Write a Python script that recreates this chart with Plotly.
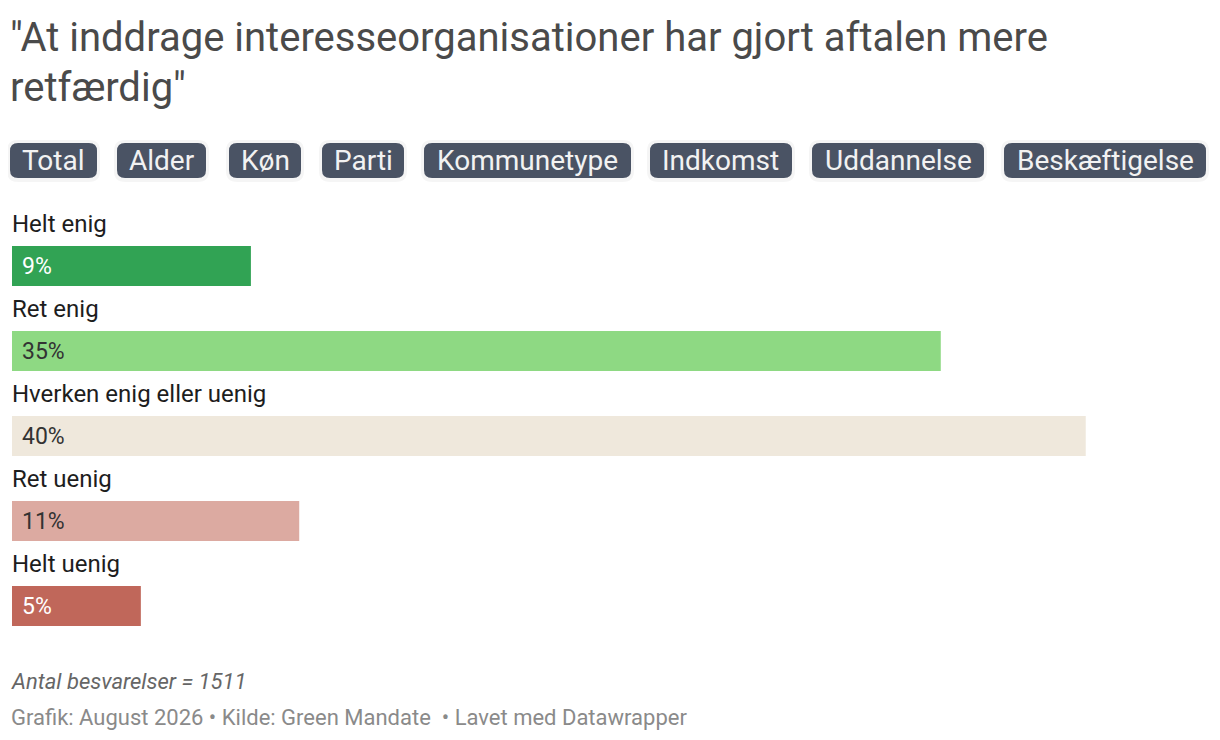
import plotly.graph_objects as go

# --- data ---
categories = ["Helt enig", "Ret enig", "Hverken enig eller uenig", "Ret uenig", "Helt uenig"]
shares = [8.9, 34.6, 40.0, 10.7, 4.8]
share_labels = ["9%", "35%", "40%", "11%", "5%"]
bar_colors = ["#31a354", "#8ed983", "#efe8dc", "#dcaaa1", "#c0675a"]
label_colors = ["#ffffff", "#333333", "#333333", "#333333", "#ffffff"]
tabs = ["Total", "Alder", "Køn", "Parti", "Kommunetype", "Indkomst", "Uddannelse", "Beskæftigelse"]
title_lines = ['"At inddrage interesseorganisationer har gjort aftalen mere', 'retfærdig"']
note = "Antal besvarelser = 1511"
source = "Grafik: August 2026 • Kilde: Green Mandate  • Lavet med Datawrapper"

W, H = 1220, 740
OFF = 8  # page body margin
FONT = "Roboto"


def px(x):
    return (x - OFF) / W


def py(y):
    return 1 - (y - OFF) / H


def rounded_rect(x0, y0, x1, y1, r):
    # pixel coords -> paper path with rounded corners
    return (
        f"M {px(x0 + r)},{py(y0)} L {px(x1 - r)},{py(y0)} "
        f"Q {px(x1)},{py(y0)} {px(x1)},{py(y0 + r)} "
        f"L {px(x1)},{py(y1 - r)} Q {px(x1)},{py(y1)} {px(x1 - r)},{py(y1)} "
        f"L {px(x0 + r)},{py(y1)} Q {px(x0)},{py(y1)} {px(x0)},{py(y1 - r)} "
        f"L {px(x0)},{py(y0 + r)} Q {px(x0)},{py(y0)} {px(x0 + r)},{py(y0)} Z"
    )


ypos = list(range(len(categories)))

fig = go.Figure()
fig.add_trace(go.Bar(
    x=shares, y=ypos, orientation="h",
    marker=dict(color=bar_colors, line=dict(width=0)),
    width=0.47,
    hoverinfo="skip",
))

annotations = []
# category labels above bars + value labels inside
for i, c in enumerate(categories):
    annotations.append(dict(
        x=0, y=i, xref="x", yref="y", text=c, showarrow=False,
        xanchor="left", yanchor="middle", yshift=42, xshift=-2,
        font=dict(family=FONT, size=24, color="#1d1d1d"),
    ))
    annotations.append(dict(
        x=0, y=i, xref="x", yref="y", text=share_labels[i], showarrow=False,
        xanchor="left", yanchor="middle", xshift=8,
        font=dict(family=FONT, size=23, color=label_colors[i]),
    ))

# title
for k, line in enumerate(title_lines):
    annotations.append(dict(
        x=px(8), y=py(37 + 50 * k), xref="paper", yref="paper", text=line,
        showarrow=False, xanchor="left", yanchor="middle",
        font=dict(family=FONT, size=40, color="#4a4a4a"),
    ))

# tab buttons
tab_x = [(10, 97), (117, 206), (229, 301), (322, 404), (424, 631), (650, 792), (812, 984), (1004, 1206)]
shapes = []
for t, (x0, x1) in zip(tabs, tab_x):
    shapes.append(dict(type="path", xref="paper", yref="paper",
                       path=rounded_rect(x0 - 3, 140, x1 + 3, 182, 11),
                       fillcolor="rgba(0,0,0,0.04)", line=dict(width=0), layer="below"))
    shapes.append(dict(type="path", xref="paper", yref="paper",
                       path=rounded_rect(x0, 143, x1, 178, 8),
                       fillcolor="#4a5364", line=dict(width=0), layer="above"))
    annotations.append(dict(
        x=px((x0 + x1) / 2), y=py(160.5), xref="paper", yref="paper", text=t,
        showarrow=False, xanchor="center", yanchor="middle",
        font=dict(family=FONT, size=28, color="#f2f2f2"),
    ))

# footer
annotations.append(dict(
    x=px(9), y=py(681), xref="paper", yref="paper", text=f"<i>{note}</i>",
    showarrow=False, xanchor="left", yanchor="middle",
    font=dict(family=FONT, size=22, color="#666666"),
))
annotations.append(dict(
    x=px(9), y=py(717), xref="paper", yref="paper", text=source,
    showarrow=False, xanchor="left", yanchor="middle",
    font=dict(family=FONT, size=22, color="#8a8a8a"),
))

fig.update_layout(
    width=W, height=H,
    margin=dict(l=0, r=0, t=0, b=0),
    paper_bgcolor="white", plot_bgcolor="white",
    showlegend=False,
    xaxis=dict(domain=[px(12), 1], range=[0, 45.3], visible=False, fixedrange=True),
    yaxis=dict(domain=[py(648.5), py(138.5)], range=[4.5, -1.5], visible=False, fixedrange=True),
    annotations=annotations,
    shapes=shapes,
    font=dict(family=FONT),
)

fig.write_html("out.html", config={"displayModeBar": False})
